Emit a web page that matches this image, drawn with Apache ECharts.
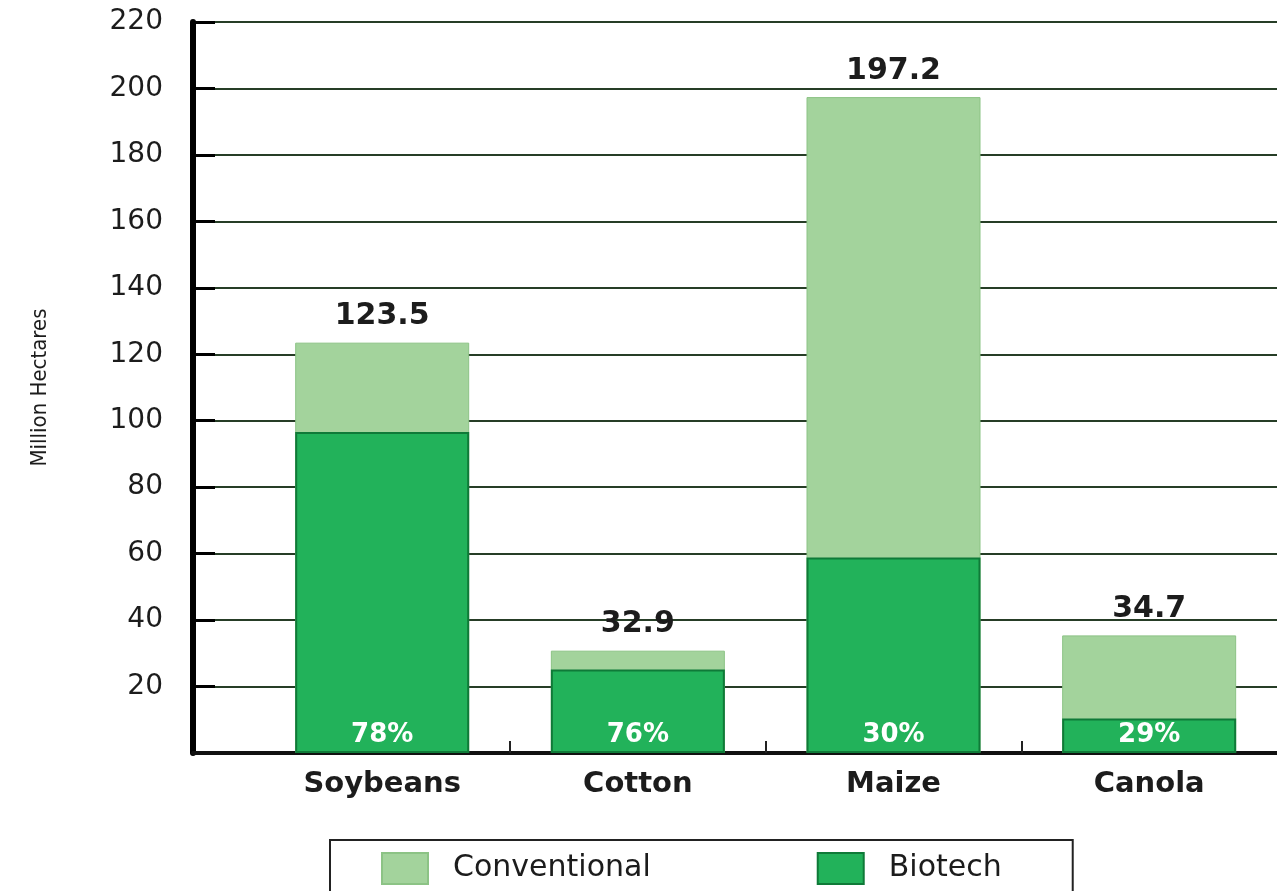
<!DOCTYPE html>
<html>
<head>
<meta charset="utf-8">
<title>Biotech crop area</title>
<script src="https://cdn.jsdelivr.net/npm/echarts@6/dist/echarts.min.js"></script>
<style>
  html, body { margin: 0; padding: 0; background: #fff; }
  #chart { width: 1277px; height: 891px; }
</style>
</head>
<body>
<div id="chart"></div>
<script>
// data
const categories = ["Soybeans", "Cotton", "Maize", "Canola"];
const biotech = [96.6, 25.1, 58.8, 10.4];
const conventional = [26.9, 5.7, 138.6, 25.0];
const totalLabels = ["123.5", "32.9", "197.2", "34.7"];
const pctLabels = ["78%", "76%", "30%", "29%"];
const yTicks = [0, 220, 20]; // min, max, step

const myChart = echarts.init(document.getElementById("chart"));

// x is a value axis so the y axis can sit left of the first category band.
// stacking misbehaves on two value axes, so the full bar is drawn behind biotech
const toPoints = (arr) => arr.map((v, i) => [i + 0.5, v]);
const totals = biotech.map((v, i) => v + conventional[i]);

const font = "DejaVu Sans";
const dark = "#1c1c1c";

let option = {
  animation: false,
  grid: { left: 193, right: 0, top: 22, bottom: 138 },
  legend: {
    data: ["Conventional", "Biotech"],
    left: 330,
    top: 840,
    icon: "rect",
    itemWidth: 46,
    itemHeight: 31,
    itemGap: 166,
    padding: [12, 71, 24, 51],
    borderColor: "#222",
    borderWidth: 2,
    textStyle: { fontFamily: font, fontSize: 30, color: dark, padding: [0, 0, 0, 20] },
  },
  xAxis: {
    type: "value",
    min: -0.24,
    max: 4,
    splitLine: { show: false },
    axisLine: { onZero: false, lineStyle: { color: "#111", width: 4 } },
    axisTick: {
      customValues: [1, 2, 3],
      inside: true,
      length: 12,
      lineStyle: { color: "#222", width: 2 },
    },
    axisLabel: {
      customValues: categories.map((c, i) => i + 0.5),
      formatter: (v) => categories[Math.floor(v)],
      margin: 17,
      fontFamily: font,
      fontWeight: "bold",
      fontSize: 29,
      color: dark,
    },
  },
  yAxis: {
    type: "value",
    min: yTicks[0],
    max: yTicks[1],
    interval: yTicks[2],
    name: "Million Hectares",
    nameLocation: "middle",
    nameGap: 142,
    nameTextStyle: {
      fontFamily: "'DejaVu Sans Condensed', 'Liberation Sans', sans-serif",
      fontSize: 22,
      color: dark,
    },
    axisLine: { show: true, onZero: false, lineStyle: { color: "#000", width: 6 } },
    axisTick: { show: true, inside: true, length: 22, lineStyle: { color: "#000", width: 3 } },
    axisLabel: {
      showMinLabel: false,
      margin: 30,
      fontFamily: font,
      fontSize: 28,
      color: dark,
    },
    splitLine: { lineStyle: { color: "#263d26", width: 2 } },
  },
  series: [
    {
      name: "Conventional",
      type: "bar",
      barWidth: 174,
      barGap: "-100%",
      data: toPoints(totals),
      itemStyle: { color: "#a3d39c", borderColor: "#8cc385", borderWidth: 1 },
      label: {
        show: true,
        position: "top",
        distance: 11,
        formatter: (p) => totalLabels[p.dataIndex],
        fontFamily: font,
        fontWeight: "bold",
        fontSize: 30,
        color: dark,
      },
    },
    {
      name: "Biotech",
      type: "bar",
      barWidth: 174,
      barGap: "-100%",
      data: toPoints(biotech),
      itemStyle: { color: "#22b25a", borderColor: "#0f7a38", borderWidth: 2 },
      label: {
        show: true,
        position: "insideBottom",
        distance: 5,
        formatter: (p) => pctLabels[p.dataIndex],
        fontFamily: font,
        fontWeight: "bold",
        fontSize: 26,
        color: "#fff",
      },
    },
  ],
};

myChart.setOption(option);
</script>
</body>
</html>
